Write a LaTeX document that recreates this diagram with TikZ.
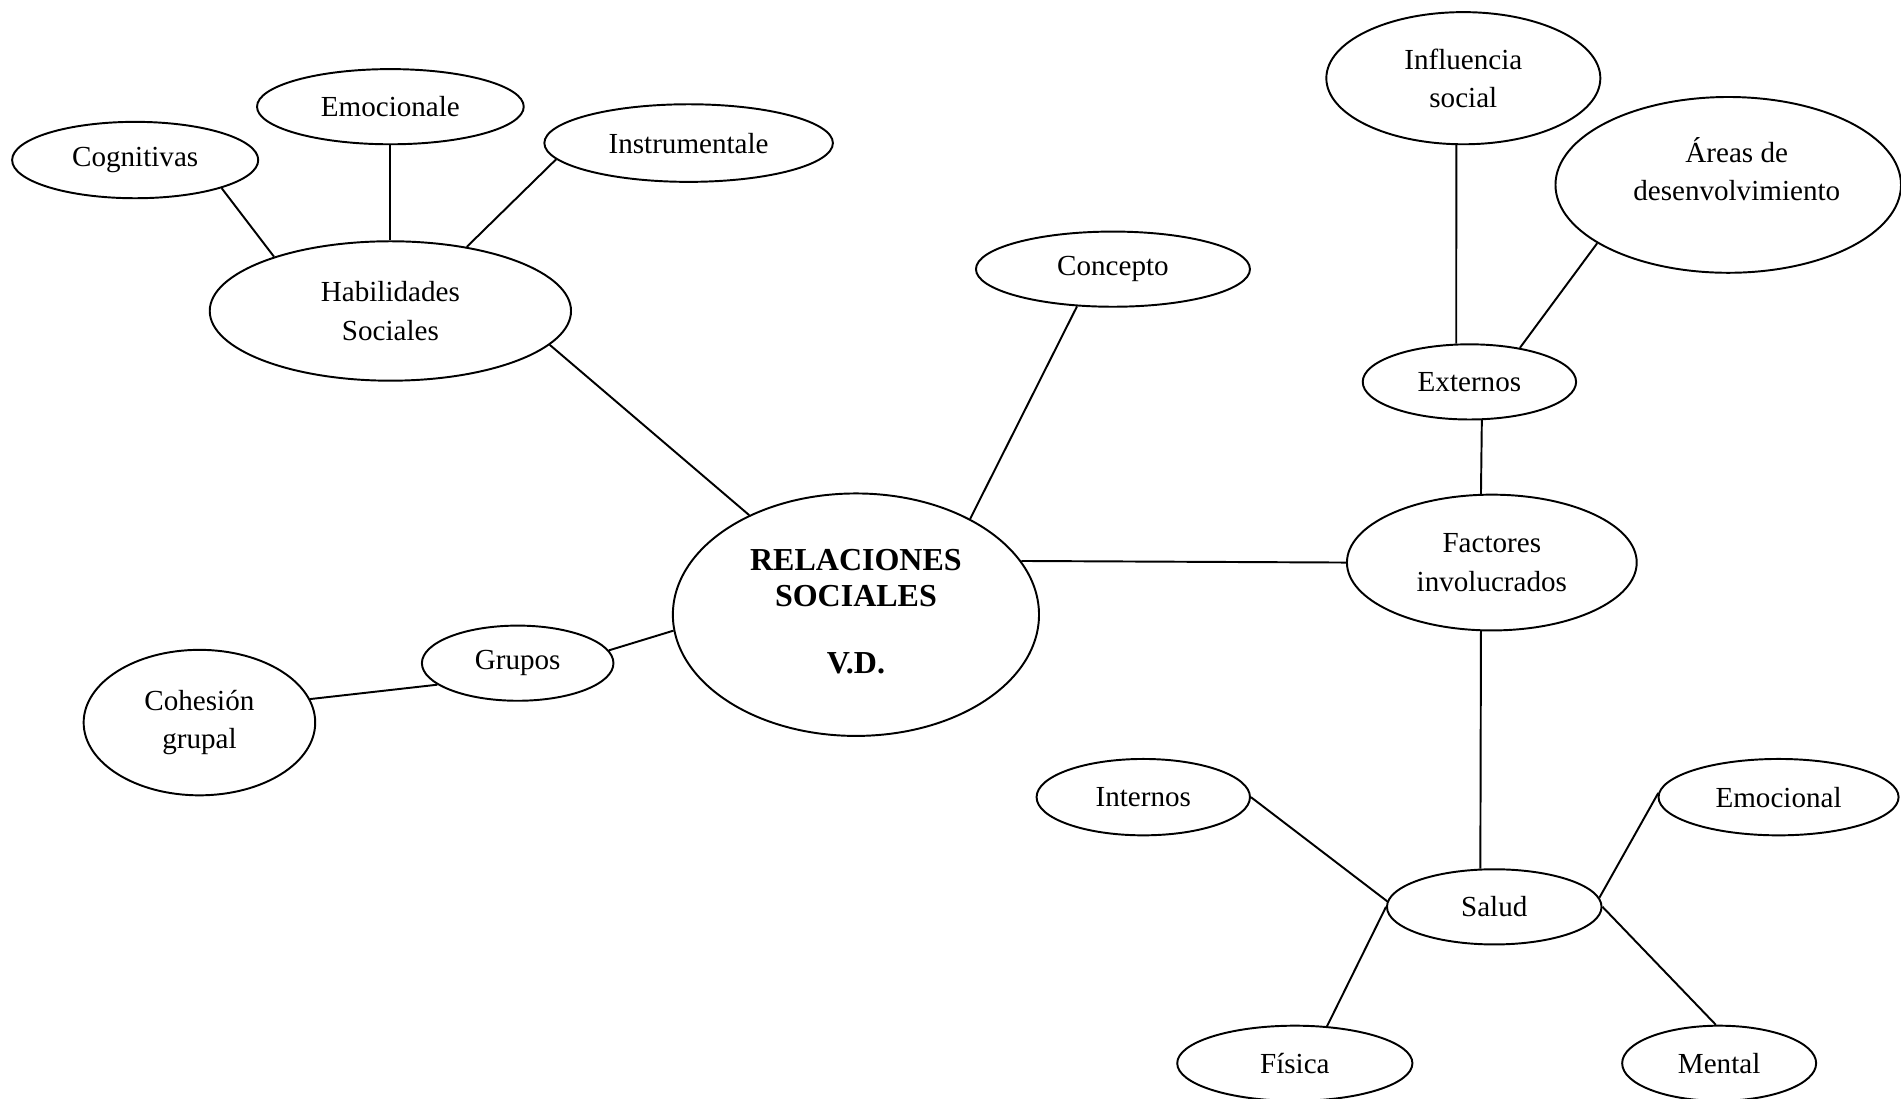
\documentclass[tikz,border=0pt]{standalone}
\usepackage{fontspec}
\setmainfont{Liberation Serif}
\usetikzlibrary{shapes.geometric}

\begin{document}
\begin{tikzpicture}[x=0.5pt, y=-0.5pt,
    idea/.style={draw, ellipse, line width=0.8pt, inner sep=1pt, align=center,
                 font=\fontsize{12}{15.75}\selectfont},
    central/.style={idea, font=\fontsize{13.2}{15}\selectfont\bfseries},
    rama/.style={line width=0.8pt},
]
    \clip (0,0) rectangle (1568,906);

    \node[central, minimum width=151pt, minimum height=100pt, text depth=3pt] (rel) at (706,507) {RELACIONES\\SOCIALES\\[12.5pt]V.D.};

    \node[idea, minimum width=149pt, minimum height=57.5pt] (hab) at (322,256.5) {Habilidades\\Sociales};
    \node[idea, minimum width=101.5pt, minimum height=31.5pt] (cog) at (111.5,132) {Cognitivas};
    \node[idea, minimum width=110pt, minimum height=31pt] (emo) at (322,88) {Emocionale};
    \node[idea, minimum width=119pt, minimum height=32pt] (ins) at (568,118) {Instrumentale};

    \node[idea, minimum width=113pt, minimum height=31pt] (con) at (918,222) {Concepto};

    \node[idea, minimum width=119.5pt, minimum height=56pt] (fac) at (1230.5,464) {Factores\\involucrados};
    \node[idea, minimum width=88pt, minimum height=31pt] (ext) at (1212,315) {Externos};
    \node[idea, minimum width=113pt, minimum height=54.5pt] (inf) at (1207,64.5) {Influencia\\social};
    \node[idea, minimum width=142.5pt, minimum height=72.5pt, text depth=13pt] (areas) at (1425.5,152.5) {\hspace*{7pt}Áreas de\\\hspace*{7pt}desenvolvimiento};

    \node[idea, minimum width=88.5pt, minimum height=31pt] (sal) at (1232.5,748) {Salud};
    \node[idea, minimum width=88pt, minimum height=31.5pt] (intn) at (943,657.5) {Internos};
    \node[idea, minimum width=99pt, minimum height=31.5pt] (emol) at (1467,657.5) {Emocional};
    \node[idea, minimum width=97pt, minimum height=31pt] (fis) at (1068,877) {Física};
    \node[idea, minimum width=80pt, minimum height=31pt] (men) at (1418,877) {Mental};

    \node[idea, minimum width=79pt, minimum height=31pt] (grp) at (427,547) {Grupos};
    \node[idea, minimum width=95.5pt, minimum height=60pt] (coh) at (164.5,596) {Cohesión\\grupal};

    \draw[rama] (cog.-18) -- (hab.155);
    \draw[rama] (emo.south) -- (hab.north);
    \draw[rama] (ins.187) -- (hab.40);
    \draw[rama] (hab.-12) -- (rel.137);
    \draw[rama] (con.226) -- (rel.40);
    \draw[rama] (rel.18) -- (fac.180);
    \draw[rama] (ext.109) -- (inf.264);
    \draw[rama] (ext.34) -- (areas.204);
    \draw[rama] (ext.-72) -- (fac.99);
    \draw[rama] (fac.-99) -- (sal.110);
    \draw[rama] (sal.177) -- (intn.0);
    \draw[rama] (sal.5) -- (emol.178);
    \draw[rama] (sal.180) -- (fis.49);
    \draw[rama] (sal.0) -- (men.95);
    \draw[rama] (grp.8) -- (rel.185);
    \draw[rama] (grp.195) -- (coh.12);
\end{tikzpicture}
\end{document}
